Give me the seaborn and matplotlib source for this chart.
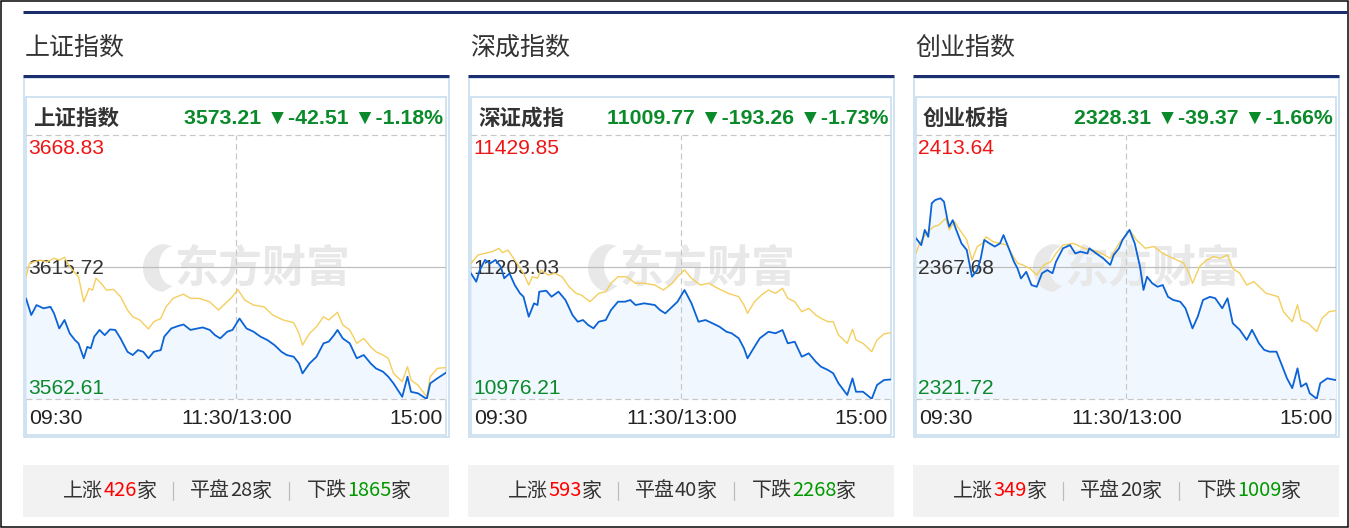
import matplotlib
matplotlib.use("Agg")
import numpy as np
import matplotlib.pyplot as plt
import seaborn as sns
from matplotlib.patches import Rectangle, Polygon

# ---- data ----
panel_titles = ["上证指数", "深成指数", "创业指数"]
box_names = ["上证指数", "深证成指", "创业板指"]
last_price = ["3573.21", "11009.77", "2328.31"]
change = ["-42.51", "-193.26", "-39.37"]
change_pct = ["-1.18%", "-1.73%", "-1.66%"]
y_top = [3668.83, 11429.85, 2413.64]
prev_close = [3615.72, 11203.03, 2367.68]
y_bottom = [3562.61, 10976.21, 2321.72]
rise = [426, 593, 349]
flat = [28, 40, 20]
fall = [1865, 2268, 1009]
time_labels = ["09:30", "11:30/13:00", "15:00"]

# minutes since 09:30 (lunch break removed), index value
sh_t = [0, 3, 6, 10, 14, 16, 19, 22, 25, 28, 30, 33, 35, 37, 39, 42, 45, 48, 51, 54,
        58, 61, 64, 67, 70, 73, 77, 79, 83, 87, 90, 94, 98, 101, 105, 108, 111, 115, 118, 122,
        126, 130, 134, 138, 142, 146, 149, 153, 156, 158, 162, 166, 170, 173, 176, 178, 181, 185, 189, 193,
        197, 200, 204, 207, 210, 215, 218, 220, 224, 229, 231, 235, 240]
sh_price = [3603.1, 3596.4, 3600.4, 3599.1, 3599.7, 3597.1, 3591.0, 3594.4, 3589.0, 3586.3,
            3585.0, 3579.0, 3583.6, 3583.0, 3587.7, 3590.4, 3588.3, 3590.6, 3590.4, 3587.0,
            3581.6, 3580.3, 3582.3, 3581.6, 3579.0, 3581.6, 3582.3, 3587.7, 3591.0, 3592.0,
            3592.6, 3590.4, 3591.0, 3591.4, 3590.4, 3588.3, 3587.0, 3589.7, 3590.4, 3595.0,
            3591.0, 3589.7, 3587.7, 3586.3, 3584.3, 3581.6, 3580.3, 3579.6, 3576.9, 3572.9,
            3576.9, 3579.6, 3585.0, 3585.7, 3588.3, 3590.4, 3587.0, 3585.0, 3579.0, 3580.3,
            3576.9, 3574.9, 3573.6, 3571.6, 3568.9, 3563.5, 3571.6, 3565.5, 3564.9, 3562.6,
            3568.9, 3570.9, 3573.2]
sh_avg_t = [0, 2, 8, 12, 16, 19, 22, 25, 30, 33, 36, 38, 40, 43, 46, 50, 54, 58, 61, 65,
            70, 73, 77, 80, 84, 90, 94, 99, 105, 110, 114, 118, 121, 125, 130, 136, 141, 147, 153, 156,
            158, 162, 166, 170, 173, 178, 181, 185, 189, 193, 197, 200, 204, 207, 210, 215, 218, 220, 224, 229,
            231, 235, 240]
sh_avg = [3611.8, 3617.2, 3618.5, 3617.8, 3619.2, 3618.5, 3619.6, 3615.8, 3611.8, 3601.7,
          3607.1, 3606.4, 3611.2, 3609.1, 3606.4, 3606.7, 3603.8, 3598.4, 3595.7, 3594.4,
          3590.8, 3593.7, 3595.0, 3599.7, 3603.1, 3604.8, 3603.1, 3603.1, 3601.7, 3598.4,
          3601.1, 3603.8, 3606.7, 3602.4, 3600.4, 3599.7, 3596.4, 3594.4, 3593.3, 3589.0,
          3584.3, 3589.0, 3591.7, 3595.7, 3594.4, 3597.5, 3592.4, 3590.4, 3585.0, 3587.0,
          3583.6, 3581.6, 3580.3, 3579.0, 3572.9, 3569.6, 3575.6, 3570.2, 3568.2, 3563.5,
          3571.6, 3574.9, 3575.3]

sz_t = [0, 3, 5, 8, 11, 14, 17, 19, 22, 25, 28, 30, 33, 36, 38, 39, 43, 46, 50, 54,
        58, 61, 64, 67, 70, 73, 77, 80, 84, 88, 91, 94, 99, 105, 108, 111, 115, 118, 122, 126,
        130, 134, 138, 142, 146, 149, 153, 156, 158, 162, 165, 170, 174, 178, 181, 185, 189, 193, 197, 200,
        204, 207, 210, 215, 218, 220, 224, 229, 232, 236, 240]
sz_price = [11192.1, 11177.8, 11197.9, 11215.1, 11209.4, 11215.1, 11203.6, 11183.6, 11192.1, 11172.1,
            11157.8, 11152.0, 11117.6, 11140.6, 11137.7, 11160.6, 11162.3, 11152.0, 11160.6, 11146.3,
            11120.5, 11109.0, 11111.9, 11103.3, 11097.7, 11109.0, 11111.9, 11129.1, 11143.4, 11143.4,
            11146.3, 11137.7, 11140.6, 11137.7, 11129.1, 11123.4, 11134.8, 11143.4, 11163.5, 11140.6,
            11109.0, 11111.9, 11106.3, 11100.4, 11091.8, 11089.1, 11080.5, 11063.3, 11046.1, 11066.0,
            11080.5, 11091.8, 11089.1, 11094.7, 11071.9, 11074.6, 11048.9, 11054.7, 11040.3, 11031.7,
            11026.0, 11020.3, 11003.2, 10983.1, 11011.7, 10988.7, 10988.7, 10976.5, 11000.2, 11008.8,
            11009.8]
sz_avg_t = [0, 4, 8, 12, 16, 18, 21, 25, 30, 33, 35, 38, 40, 44, 48, 52, 56, 60, 63, 68,
            73, 77, 80, 84, 89, 94, 99, 105, 110, 115, 118, 122, 126, 131, 136, 141, 147, 153, 156, 158,
            162, 166, 170, 174, 178, 181, 185, 189, 193, 197, 200, 204, 207, 210, 215, 218, 220, 224, 229, 232,
            236, 240]
sz_avg = [11209.4, 11223.6, 11226.5, 11229.3, 11235.1, 11227.6, 11232.2, 11215.0, 11192.1, 11172.1,
          11186.3, 11183.6, 11197.9, 11189.3, 11192.1, 11186.3, 11169.2, 11157.8, 11154.9, 11143.4,
          11157.8, 11160.6, 11175.0, 11186.3, 11186.3, 11175.0, 11175.0, 11172.1, 11163.5, 11175.0,
          11186.3, 11197.9, 11183.6, 11172.1, 11175.0, 11166.4, 11157.8, 11152.0, 11137.7, 11123.4,
          11143.4, 11154.9, 11163.5, 11157.8, 11166.4, 11149.2, 11143.4, 11126.2, 11132.0, 11120.5,
          11114.8, 11109.0, 11109.0, 11086.2, 11071.9, 11095.9, 11077.6, 11071.9, 11057.5, 11077.6,
          11087.9, 11090.2]

cy_t = [0, 3, 5, 7, 9, 11, 14, 16, 18, 19, 21, 23, 26, 29, 32, 35, 37, 39, 42, 45,
        48, 50, 53, 56, 58, 60, 63, 66, 69, 72, 75, 78, 80, 84, 88, 91, 94, 98, 99, 103,
        107, 111, 113, 116, 118, 122, 125, 128, 130, 132, 135, 138, 141, 144, 147, 151, 154, 156, 158, 161,
        164, 168, 171, 175, 178, 181, 185, 189, 192, 196, 199, 202, 206, 209, 212, 215, 218, 220, 223, 225,
        229, 231, 235, 240]
cy_price = [2377.7, 2375.3, 2380.6, 2378.2, 2389.9, 2391.0, 2391.6, 2390.4, 2384.0, 2381.7,
            2384.0, 2380.6, 2375.9, 2373.6, 2364.3, 2366.6, 2370.7, 2377.1, 2375.9, 2374.8,
            2375.9, 2378.8, 2374.2, 2369.5, 2367.2, 2363.7, 2366.0, 2361.4, 2360.8, 2365.5,
            2366.6, 2365.5, 2369.5, 2374.2, 2375.3, 2372.4, 2373.0, 2372.4, 2374.2, 2372.4,
            2370.7, 2368.4, 2371.9, 2374.2, 2377.1, 2380.6, 2375.9, 2367.8, 2359.7, 2364.3,
            2362.0, 2360.8, 2361.4, 2357.3, 2356.2, 2355.6, 2353.3, 2349.8, 2346.3, 2350.4,
            2356.2, 2357.3, 2356.8, 2353.3, 2356.8, 2348.1, 2345.8, 2342.3, 2345.8, 2341.1,
            2338.8, 2338.2, 2338.2, 2333.6, 2328.9, 2325.5, 2332.4, 2326.0, 2327.2, 2323.7,
            2321.8, 2327.2, 2328.9, 2328.3]
cy_avg_t = [0, 2, 6, 10, 13, 17, 19, 22, 25, 29, 32, 35, 38, 40, 44, 48, 52, 55, 58, 61,
            65, 69, 73, 77, 80, 84, 90, 96, 101, 106, 111, 116, 119, 122, 126, 131, 136, 141, 147, 153,
            156, 158, 162, 166, 170, 174, 178, 181, 185, 189, 193, 197, 200, 204, 207, 210, 215, 218, 220, 224,
            229, 232, 236, 240]
cy_avg = [2372.4, 2375.9, 2379.4, 2381.7, 2382.3, 2384.6, 2380.6, 2383.5, 2380.6, 2377.1,
          2370.1, 2374.8, 2375.9, 2378.2, 2376.5, 2375.9, 2375.3, 2371.9, 2369.0, 2368.4,
          2367.2, 2364.9, 2368.4, 2369.5, 2372.4, 2375.3, 2375.9, 2374.2, 2373.6, 2372.4,
          2370.7, 2375.9, 2378.2, 2380.6, 2377.1, 2374.2, 2374.8, 2372.4, 2370.7, 2369.0,
          2365.5, 2362.0, 2367.8, 2370.1, 2371.3, 2370.7, 2371.9, 2367.2, 2365.5, 2361.4,
          2362.6, 2360.3, 2358.5, 2357.9, 2357.3, 2352.1, 2348.6, 2354.5, 2349.2, 2348.1,
          2345.2, 2349.8, 2352.1, 2352.5]

series = [(sh_t, sh_price, sh_avg_t, sh_avg),
          (sz_t, sz_price, sz_avg_t, sz_avg),
          (cy_t, cy_price, cy_avg_t, cy_avg)]

W, H = 1349, 528
PT = 0.72  # points per pixel at 100 dpi

NAVY = "#1b2f6e"
BOX = "#c3d9ec"
BLUE = "#0b63d6"
YELLOW = "#f4cf5f"
FILL = "#f0f7fe"
GREEN = "#0a8a2a"
RED = "#f01414"
GRID = "#c8c8c8"
WMARK = "#e8e8e8"

sns.set_style("white")
plt.rcParams['font.family'] = ['Liberation Sans', 'Noto Sans CJK SC', 'DejaVu Sans']
CJK = ['Noto Sans CJK SC', 'DejaVu Sans']
NUM = ['Liberation Sans', 'DejaVu Sans']

fig = plt.figure(figsize=(W / 100, H / 100), dpi=100)
bg = fig.add_axes([0, 0, 1, 1])
bg.set_xlim(0, W)
bg.set_ylim(H, 0)
bg.axis('off')
renderer = fig.canvas.get_renderer()

# outer frame and top rule
bg.add_patch(Rectangle((0.5, 0.5), W - 1.5, H - 1.5, fill=False, ec='black', lw=1.5 * PT))
bg.plot([23, W - 2], [11.5, 11.5], color=NAVY, lw=3 * PT, solid_capstyle='butt')


def text_row(xc, y, pieces, size):
    arts, widths = [], []
    for s, c in pieces:
        t = bg.text(0, y, s, color=c, fontsize=size, va='center', ha='left', family=CJK)
        arts.append(t)
        widths.append(t.get_window_extent(renderer=renderer).width)
    x = xc - sum(widths) / 2
    for t, w in zip(arts, widths):
        t.set_x(x)
        x += w


def logo(ax, cx, cy):
    # rough crescent swoosh of the watermark logo, in pixel coords
    a = np.radians(np.linspace(95, 265, 40))
    outer = np.c_[cx + 22 * np.cos(a), cy - 24 * np.sin(a)]
    inner = np.c_[cx + 9 + 15 * np.cos(a[::-1]), cy - 2 - 20 * np.sin(a[::-1])]
    ax.add_patch(Polygon(np.r_[outer, inner], closed=True, fc=WMARK, ec='none',
                         transform=bg.transData, zorder=1.5))


for i in range(3):
    dx = 445 * i
    t_p, v_p, t_a, v_a = series[i]

    bg.text(25 + dx, 48, panel_titles[i], fontsize=25 * PT, color='#333333',
            va='center', ha='left', family=CJK)
    bg.plot([23 + dx, 449 + dx], [76, 76], color=NAVY, lw=3 * PT, solid_capstyle='butt')
    bg.add_patch(Rectangle((23.5 + dx, 77.5), 425, 359.5, fill=False, ec=BOX, lw=1.5 * PT))
    bg.add_patch(Rectangle((25.5 + dx, 96.5), 420.5, 338, fill=False, ec=BOX, lw=1.5 * PT))

    bg.text(33 + dx, 118, box_names[i], fontsize=21.5 * PT, fontweight='bold',
            color='#333333', va='center', ha='left', family=CJK)
    bg.text(443 + dx, 118, f"{last_price[i]} ▼{change[i]} ▼{change_pct[i]}",
            fontsize=21.3 * PT, fontweight='bold', color=GREEN, va='center', ha='right',
            family=NUM)

    # chart area
    ax = fig.add_axes([(26 + dx) / W, (H - 399) / H, 420 / W, 264 / H])
    ax.patch.set_alpha(0)
    ax.axis('off')
    ax.set_xlim(0, 240)
    ax.set_ylim(y_bottom[i], y_top[i])

    ax.fill_between(t_p, v_p, y_bottom[i], color=FILL, lw=0, zorder=1)
    ax.text(262 + dx, 268, "东方财富", transform=bg.transData, fontsize=44 * PT,
            fontweight='bold', color=WMARK, ha='center', va='center',
            family=CJK, zorder=1.5)
    logo(ax, 165 + dx, 268)
    ax.axhline(prev_close[i], color='#bdbdbd', lw=1.2 * PT, zorder=1.6)
    for yv in (y_top[i], y_bottom[i]):
        ax.axhline(yv, color=GRID, lw=1.2 * PT, ls=(0, (5, 3)), clip_on=False, zorder=1.6)
    ax.axvline(120, color=GRID, lw=1.2 * PT, ls=(0, (5, 3)), zorder=1.6)

    for yv, s, c in ((149, f"{y_top[i]:.2f}", RED),
                     (269, f"{prev_close[i]:.2f}", '#333333'),
                     (389, f"{y_bottom[i]:.2f}", GREEN)):
        ax.text(28 + dx, yv, s, transform=bg.transData, fontsize=21 * PT, color=c,
                va='center', ha='left', family=NUM, zorder=2)

    sns.lineplot(x=t_a, y=v_a, ax=ax, color=YELLOW, lw=1.4 * PT, estimator=None,
                 sort=False, zorder=3)
    sns.lineplot(x=t_p, y=v_p, ax=ax, color=BLUE, lw=1.8 * PT, estimator=None,
                 sort=False, zorder=4)

    # time axis labels
    bg.text(29 + dx, 418, time_labels[0], fontsize=21.3 * PT, color='#222222',
            va='center', ha='left', family=NUM)
    bg.text(237 + dx, 418, time_labels[1], fontsize=21.3 * PT, color='#222222',
            va='center', ha='center', family=NUM)
    bg.text(443 + dx, 418, time_labels[2], fontsize=21.3 * PT, color='#222222',
            va='center', ha='right', family=NUM)

    # advance / decline bar
    bg.add_patch(Rectangle((23 + dx, 465), 426, 52, fc='#f2f2f2', ec='none'))
    fs = 20 * PT
    text_row(110 + dx, 491, [("上涨", '#333333'), (str(rise[i]), '#ff0000'), ("家", '#333333')], fs)
    text_row(231 + dx, 491, [("平盘", '#333333'), (str(flat[i]), '#333333'), ("家", '#333333')], fs)
    text_row(359 + dx, 491, [("下跌", '#333333'), (str(fall[i]), '#009900'), ("家", '#333333')], fs)
    for xs in (173, 289):
        bg.plot([xs + dx, xs + dx], [482, 500], color='#bbbbbb', lw=1.2 * PT)

fig.savefig("out.png", dpi=100)
